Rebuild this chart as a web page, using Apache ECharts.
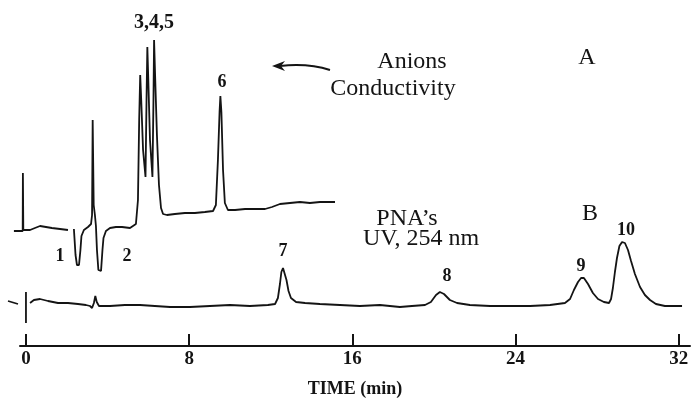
<html lang="en">
<head>
    <meta charset="UTF-8">
    <title>Chromatogram</title>
    <style>
        html, body {
            margin: 0;
            width: 100%;
            height: 100%;
            background: #ffffff;
            overflow: hidden;
        }

        #container {
            width: 693px;
            height: 402px;
        }
    </style>
</head>
<body>
<div id="container"></div>
<script type="text/javascript" src="https://cdn.jsdelivr.net/npm/echarts@6/dist/echarts.min.js"></script>
<script>
    // tick labels on the time axis (min)
    var timeTicks = [0, 8, 16, 24, 32];

    // trace A: anions, conductivity detector (null = pen lift)
    var timeA = [-0.59, -0.16, -0.15, -0.13, 0.20, 0.44, 0.69, 0.98, 1.27, 1.67, 2.06,
        2.20,
        2.35, 2.43, 2.50, 2.60, 2.67, 2.72, 2.84, 3.04, 3.19, 3.24, 3.27, 3.32, 3.38, 3.43,
        3.48, 3.55, 3.68, 3.75, 3.80, 3.92, 4.12, 4.41, 4.71, 5.10, 5.39,
        5.49, 5.55, 5.60, 5.65, 5.74, 5.86, 5.91, 5.95, 5.99, 6.08, 6.20, 6.25, 6.28, 6.33,
        6.42, 6.52, 6.62, 6.72, 6.91, 7.30, 7.79, 8.28, 8.77, 9.17,
        9.31, 9.41, 9.49, 9.53, 9.58, 9.66, 9.75, 9.90, 10.25, 10.74, 11.23, 11.72,
        12.06, 12.45, 12.94, 13.43, 13.92, 14.41, 15.15];
    var signalA = [115, 115, 173, 116, 116, 118, 120, 119, 118, 117, 116,
        null,
        117, 91, 81, 81, 96, 110, 116, 119, 122, 131, 226, 141, 131, 120,
        96, 76, 75, 96, 108, 115, 118, 119, 119, 118, 122,
        146, 226, 271, 246, 196, 169, 246, 299, 271, 206, 169, 246, 306, 271,
        211, 161, 138, 132, 131, 132, 133, 133, 134, 135,
        141, 186, 234, 250, 234, 176, 143, 136, 136, 137, 137, 137,
        139, 142, 143, 144, 143, 144, 144];

    // trace B: PNA's, UV detector at 254 nm
    var timeB = [-0.88, -0.39,
        -0.2,
        0, 0,
        0.1,
        0.20, 0.39, 0.69, 1.08, 1.57, 2.06, 2.55, 2.94, 3.14, 3.24, 3.33, 3.40, 3.47, 3.58,
        4.12, 4.85, 5.59, 6.32, 7.06, 8.04, 9.02, 10.00, 10.98, 11.86,
        12.21, 12.35, 12.45, 12.52, 12.60, 12.67, 12.77, 12.87, 12.99, 13.24, 13.68,
        14.41, 15.39, 16.37, 17.35, 18.33, 18.92, 19.56,
        19.85, 20.10, 20.29, 20.49, 20.78, 21.13, 21.76, 22.75, 23.73, 24.71, 25.69,
        26.42, 26.67, 26.86, 27.06, 27.21, 27.35, 27.55, 27.79, 28.04, 28.33, 28.58,
        28.68, 28.77, 28.87, 28.97, 29.09, 29.22, 29.36, 29.51, 29.66, 29.85, 30.10,
        30.34, 30.59, 30.88, 31.32, 31.81, 32.16];
    var signalB = [45, 42,
        null,
        54, 23,
        null,
        43, 46, 47, 45, 43, 43, 42, 41, 40, 38, 43, 50, 44, 40,
        40, 41, 41, 40, 39, 39, 40, 41, 40, 41,
        42, 48, 62, 74, 78, 76, 66, 55, 48, 44, 43,
        42, 41, 40, 41, 39, 40, 41,
        44, 51, 54, 52, 46, 43, 41, 40, 40, 40, 41,
        43, 47, 56, 64, 68, 68, 62, 53, 47, 44, 43,
        47, 58, 74, 88, 100, 104, 103, 96, 85, 72, 59,
        51, 46, 42, 40, 40, 40];

    function zip(xs, ys) {
        var out = [];
        for (var i = 0; i < xs.length; i++) {
            out.push([xs[i], ys[i] === null ? '-' : ys[i]]);
        }
        return out;
    }

    var ink = '#141414';
    var serif = '"Liberation Serif", "DejaVu Serif", serif';

    function txt(text, x, y, size, weight) {
        return {
            type: 'text',
            x: x,
            y: y,
            style: {
                text: text,
                fill: ink,
                font: (weight || 'normal') + ' ' + size + 'px ' + serif,
                align: 'center',
                verticalAlign: 'middle'
            }
        };
    }

    var myChart = echarts.init(document.getElementById('container'));
    var option = {
        animation: false,
        grid: [
            // plot area: traces, ticks and labels
            {left: 7.6, right: 3, top: 0, bottom: 56, outerBoundsMode: 'none'},
            // axis line only (starts a little left of t = 0)
            {left: 20, right: 3, top: 0, bottom: 56, outerBoundsMode: 'none'}
        ],
        xAxis: [
            {
                type: 'value',
                gridIndex: 0,
                min: -0.9,
                max: 32.55,
                axisLine: {show: false},
                axisTick: {
                    show: true,
                    inside: true,
                    length: 12,
                    customValues: timeTicks,
                    lineStyle: {color: ink, width: 2}
                },
                axisLabel: {
                    customValues: timeTicks,
                    color: ink,
                    fontFamily: serif,
                    fontWeight: 'bold',
                    fontSize: 19,
                    margin: 4
                },
                splitLine: {show: false}
            },
            {
                type: 'value',
                gridIndex: 1,
                min: 0,
                max: 1,
                name: 'TIME (min)',
                nameLocation: 'middle',
                nameGap: 34,
                nameTextStyle: {
                    color: ink,
                    fontFamily: serif,
                    fontWeight: 'bold',
                    fontSize: 18
                },
                axisLine: {lineStyle: {color: ink, width: 2}},
                axisTick: {show: false},
                axisLabel: {show: false},
                splitLine: {show: false}
            }
        ],
        yAxis: [
            {type: 'value', gridIndex: 0, min: 0, max: 346, show: false},
            {type: 'value', gridIndex: 1, min: 0, max: 1, show: false}
        ],
        series: [
            {
                name: 'Anions (conductivity)',
                type: 'line',
                data: zip(timeA, signalA),
                showSymbol: false,
                symbol: 'none',
                clip: false,
                connectNulls: false,
                lineStyle: {color: ink, width: 1.8}
            },
            {
                name: "PNA's (UV, 254 nm)",
                type: 'line',
                data: zip(timeB, signalB),
                showSymbol: false,
                symbol: 'none',
                clip: false,
                connectNulls: false,
                lineStyle: {color: ink, width: 1.8}
            }
        ],
        graphic: [
            txt('3,4,5', 154, 23, 20, 'bold'),
            txt('6', 222, 82, 18, 'bold'),
            txt('1', 60, 256, 18, 'bold'),
            txt('2', 127, 256, 18, 'bold'),
            txt('7', 283, 251, 18, 'bold'),
            txt('8', 447, 276, 18, 'bold'),
            txt('9', 581, 266, 18, 'bold'),
            txt('10', 626, 230, 18, 'bold'),
            txt('Anions', 412, 62, 24),
            txt('Conductivity', 393, 89, 24),
            txt('A', 587, 58, 24),
            txt("PNA\u2019s", 407, 219, 24),
            txt('UV, 254 nm', 421, 239, 24),
            txt('B', 590, 214, 24),
            {
                type: 'bezierCurve',
                shape: {x1: 330, y1: 70, x2: 280, y2: 66, cpx1: 308, cpy1: 63},
                style: {stroke: ink, lineWidth: 2, fill: null}
            },
            {
                type: 'polygon',
                shape: {points: [[272, 66], [285, 61], [281, 66], [285, 71]]},
                style: {fill: ink}
            }
        ]
    };

    myChart.setOption(option);
</script>
</body>
</html>
